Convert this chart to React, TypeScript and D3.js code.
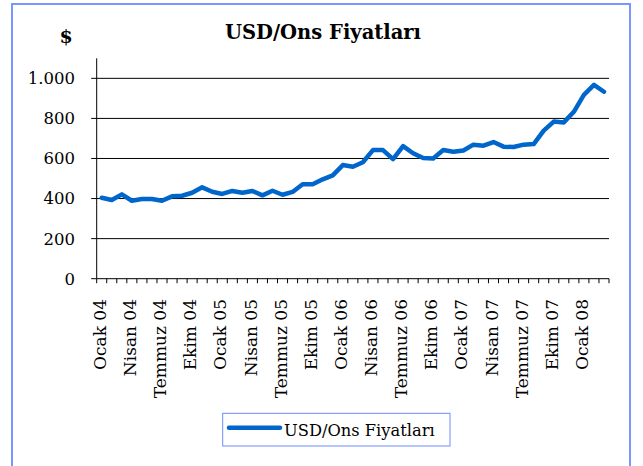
import React from "react";
import * as d3 from "d3";

const monthNames = ["Ocak", "Şubat", "Mart", "Nisan", "Mayıs", "Haziran", "Temmuz", "Ağustos", "Eylül", "Ekim", "Kasım", "Aralık"];
const years = ["04", "05", "06", "07", "08"];
const monthCount = 51;
const categories: string[] = d3.range(monthCount).map((i) => `${monthNames[i % 12]} ${years[Math.floor(i / 12)]}`);
const values = [
  404, 393, 421, 389, 398, 398, 389, 411, 414, 429,
  456, 434, 423, 438, 429, 438, 416, 439, 419, 433,
  471, 471, 496, 516, 567, 559, 581, 642, 642, 597,
  662, 626, 602, 600, 642, 634, 640, 669, 664, 682,
  659, 657, 669, 672, 739, 784, 780, 833, 917, 967,
  933,
];
const yTicks = [0, 200, 400, 600, 800, 1000];
const labelEvery = 3;
const title = "USD/Ons Fiyatları";
const seriesName = "USD/Ons Fiyatları";
const unitLabel = "$";

const W = 643;
const H = 466;
const left = 96.7;
const right = 609;
const top = 58.3;
const bottom = 278.7;
const font = '"DejaVu Serif", serif';
const lineColor = "#0066cc";
const borderColor = "#6b8cff";
const txt = { fontFamily: font, fill: "#000" };

export default function App() {
  const x = d3.scaleBand<string>().domain(categories).range([left, right]).padding(0);
  const y = d3.scaleLinear().domain([0, 1100]).range([bottom, top]);
  const cx = (c: string) => (x(c) as number) + x.bandwidth() / 2;
  const data = categories.map((c, i) => ({ c, v: values[i] }));
  const line = d3
    .line<{ c: string; v: number }>()
    .x((d) => cx(d.c))
    .y((d) => y(d.v));
  const boundaries = d3.range(categories.length + 1).map((i) => left + i * x.bandwidth());
  const fmt = (v: number) => d3.format(",")(v).replace(/,/g, ".");

  return (
    <svg width={W} height={H} style={{ position: "absolute", left: 0, top: 0, fontFamily: font }}>
      <rect x={0} y={0} width={W} height={H} fill="#fff" />
      <rect x={12} y={4} width={618} height={480} fill="none" stroke={borderColor} strokeWidth={1.8} />
      <text x={323} y={39} textAnchor="middle" fontWeight="bold" fontSize={19.5} style={txt}>
        {title}
      </text>
      <text x={66} y={43} textAnchor="middle" fontWeight="bold" fontSize={19} style={txt}>
        {unitLabel}
      </text>
      {yTicks
        .filter((t) => t > 0)
        .map((t) => (
          <line key={"g" + t} x1={left} x2={right} y1={y(t)} y2={y(t)} stroke="#000" strokeWidth={1} />
        ))}
      {yTicks.map((t) => (
        <g key={"yt" + t}>
          <line x1={left - 5.5} x2={left} y1={y(t)} y2={y(t)} stroke="#000" strokeWidth={1} />
          <text x={75} y={y(t)} dy="0.36em" textAnchor="end" fontSize={16.5} style={txt}>
            {fmt(t)}
          </text>
        </g>
      ))}
      <line x1={left} x2={left} y1={top} y2={bottom} stroke="#000" strokeWidth={1} />
      <line x1={left} x2={right} y1={bottom} y2={bottom} stroke="#000" strokeWidth={1} />
      {boundaries.map((bx, i) => (
        <line key={"xt" + i} x1={bx} x2={bx} y1={bottom} y2={bottom + 4.5} stroke="#000" strokeWidth={1} />
      ))}
      {categories.map((c, i) =>
        i % labelEvery === 0 ? (
          <text
            key={"xl" + i}
            transform={`translate(${cx(c) - 2},${299}) rotate(-90)`}
            textAnchor="end"
            dy="0.36em"
            fontSize={17}
            style={txt}
          >
            {c}
          </text>
        ) : null
      )}
      <path d={line(data) || ""} fill="none" stroke={lineColor} strokeWidth={4.5} strokeLinejoin="round" strokeLinecap="round" />
      <rect x={222.7} y={413.3} width={227.3} height={32.7} fill="#fff" stroke={borderColor} strokeWidth={1} />
      <line x1={229} x2={280} y1={427.7} y2={427.7} stroke={lineColor} strokeWidth={4.5} strokeLinecap="round" />
      <text x={284} y={436} fontSize={16.3} style={txt}>
        {seriesName}
      </text>
    </svg>
  );
}
